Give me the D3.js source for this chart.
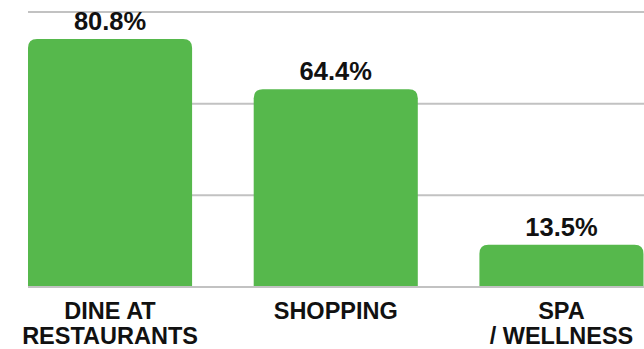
<!DOCTYPE html>
<html>
<head>
<meta charset="utf-8">
<script src="https://cdn.jsdelivr.net/npm/d3@7"></script>
<style>
  html, body { margin: 0; padding: 0; background: #fff; }
  svg { display: block; }
  text { font-family: "Liberation Sans", Arial, sans-serif; font-weight: bold; fill: #111; }
</style>
</head>
<body>
<svg id="chart" width="644" height="349"></svg>
<script>
// Share of visitors by activity (%)
const categories = ["DINE AT\nRESTAURANTS", "SHOPPING", "SPA\n/ WELLNESS"];
const values = [80.8, 64.4, 13.5];
const valueLabels = ["80.8%", "64.4%", "13.5%"];
const gridTicks = [0, 30, 60, 90];

const W = 644, H = 349;
const svg = d3.select("#chart");

const x = d3.scaleBand()
  .domain(categories)
  .range([28, 643.5])
  .paddingInner(0.273)
  .paddingOuter(0);

const y = d3.scaleLinear().domain([0, 90]).range([286, 11]);

// horizontal gridlines behind the bars
svg.append("g")
  .selectAll("line")
  .data(gridTicks.filter(d => d > 0))
  .join("line")
  .attr("x1", 28).attr("x2", W)
  .attr("y1", d => y(d) + 1).attr("y2", d => y(d) + 1)
  .attr("stroke", "#c2c2c2")
  .attr("stroke-width", 2);

// bars with rounded top corners
const r = 9;
function barPath(d, i) {
  const x0 = x(categories[i]), w = x.bandwidth();
  const top = y(d), bot = y(0);
  return `M${x0},${bot} L${x0},${top + r} Q${x0},${top} ${x0 + r},${top}
          L${x0 + w - r},${top} Q${x0 + w},${top} ${x0 + w},${top + r}
          L${x0 + w},${bot} Z`;
}
svg.append("g")
  .selectAll("path")
  .data(values)
  .join("path")
  .attr("d", barPath)
  .attr("fill", "#56b84c");

// baseline
svg.append("line")
  .attr("x1", 28).attr("x2", W)
  .attr("y1", y(0) + 1).attr("y2", y(0) + 1)
  .attr("stroke", "#c2c2c2")
  .attr("stroke-width", 2);

// value labels above bars
svg.append("g")
  .selectAll("text")
  .data(values)
  .join("text")
  .attr("x", (d, i) => x(categories[i]) + x.bandwidth() / 2)
  .attr("y", d => y(d) - 9)
  .attr("text-anchor", "middle")
  .attr("font-size", 25.5)
  .text((d, i) => valueLabels[i]);

// category labels (two lines where needed)
const cat = svg.append("g")
  .selectAll("text")
  .data(categories)
  .join("text")
  .attr("x", d => x(d) + x.bandwidth() / 2)
  .attr("y", 319)
  .attr("text-anchor", "middle")
  .attr("font-size", 23.5);
cat.selectAll("tspan")
  .data(d => d.split("\n").map(s => ({ s, cx: x(d) + x.bandwidth() / 2 })))
  .join("tspan")
  .attr("x", t => t.cx)
  .attr("dy", (t, j) => j === 0 ? 0 : 24.5)
  .text(t => t.s);
</script>
</body>
</html>
